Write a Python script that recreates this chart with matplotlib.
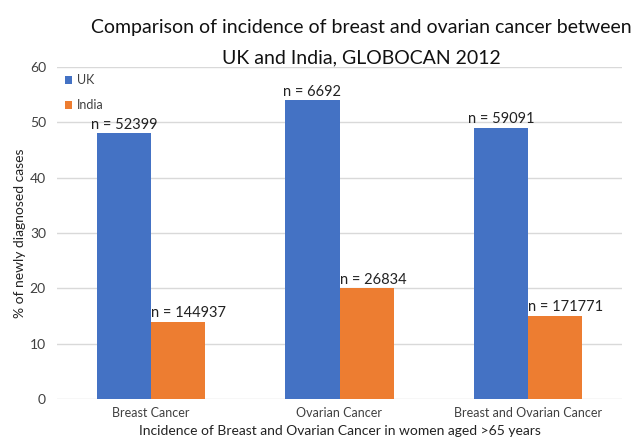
import numpy as np
import matplotlib
matplotlib.use("Agg")
import matplotlib.pyplot as plt

plt.rcParams['font.family'] = ['Lato', 'DejaVu Sans']

categories = ["Breast Cancer", "Ovarian Cancer", "Breast and Ovarian Cancer"]
uk = [48, 54, 49]
india = [14, 20, 15]
uk_n = ["n = 52399", "n = 6692", "n = 59091"]
india_n = ["n = 144937", "n = 26834", "n = 171771"]

blue = "#4472C4"
orange = "#ED7D31"

fig = plt.figure(figsize=(6.35, 4.45), dpi=100)
ax = fig.add_axes([57/635, 1-399/445, 565/635, 332/445])

x = np.arange(len(categories))
w = 0.287
b1 = ax.bar(x - w/2, uk, w, color=blue, label="UK", zorder=3)
b2 = ax.bar(x + w/2, india, w, color=orange, label="India", zorder=3)

for i in range(len(x)):
    ax.text(x[i] - w/2, uk[i] + 0.3, uk_n[i], ha="center", va="bottom",
            fontsize=10.5, color="#222222")
    ax.text(x[i], india[i] + 0.3, india_n[i], ha="left", va="bottom",
            fontsize=10.5, color="#222222")

ax.set_xlim(-0.5, 2.5)
ax.set_ylim(0, 60)
ax.set_yticks(range(0, 61, 10))
ax.set_xticks(x)
ax.set_xticklabels(categories)
ax.grid(axis="y", color="#D9D9D9", linewidth=1, zorder=0)
for s in ax.spines.values():
    s.set_visible(False)
ax.tick_params(axis="both", length=0, labelsize=9, colors="#404040", pad=6)
ax.tick_params(axis="y", labelsize=10, pad=8)

ax.set_ylabel("% of newly diagnosed cases", fontsize=10, color="#222222", labelpad=3)
ax.set_xlabel("Incidence of Breast and Ovarian Cancer in women aged >65 years",
              fontsize=10, color="#222222", labelpad=4)

fig.text(361/635, 1-28/445, "Comparison of incidence of breast and ovarian cancer between",
         ha="center", va="center", fontsize=14, color="#111111")
fig.text(361/635, 1-58/445, "UK and India, GLOBOCAN 2012",
         ha="center", va="center", fontsize=14, color="#111111")

leg = ax.legend(loc="upper left", bbox_to_anchor=(0.0, 1.0), frameon=False,
                fontsize=9, handlelength=0.6, handleheight=0.6,
                handletextpad=0.4, labelspacing=1.0, borderaxespad=0.2)
for t in leg.get_texts():
    t.set_color("#404040")

fig.savefig("out.png", dpi=100)
